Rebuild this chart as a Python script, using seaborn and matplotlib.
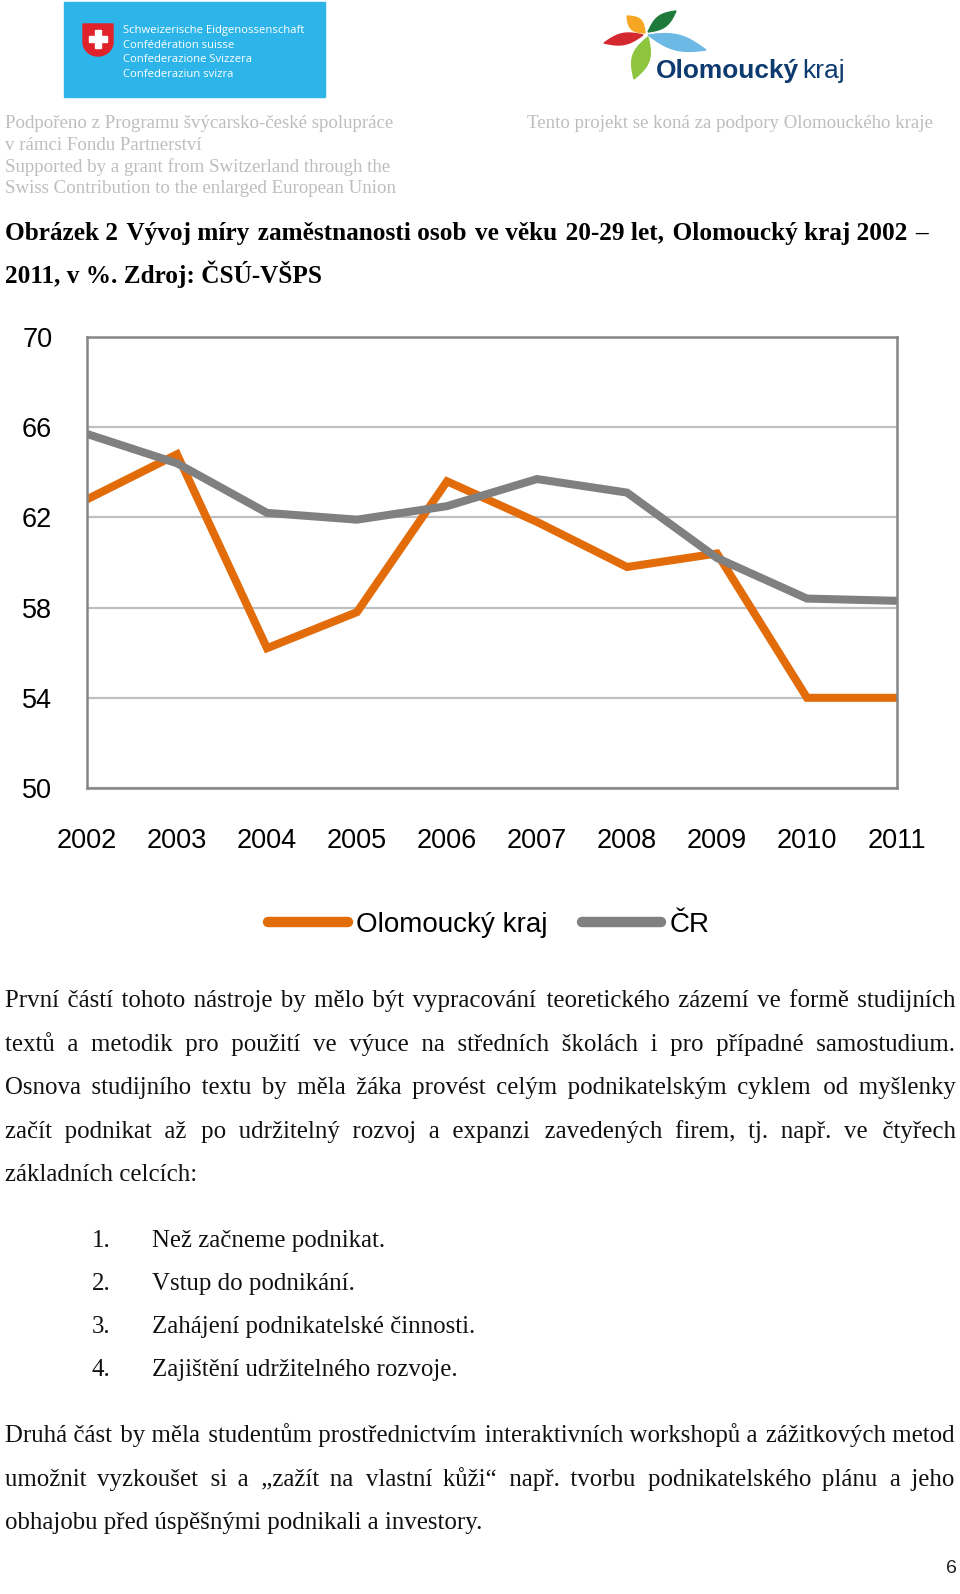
import numpy as np
import pandas as pd
import matplotlib.pyplot as plt
import seaborn as sns
from matplotlib.patches import Rectangle, Polygon

# Data: míra zaměstnanosti 20-29 let (%)
years = [2002, 2003, 2004, 2005, 2006, 2007, 2008, 2009, 2010, 2011]
olomoucky = [62.8, 64.8, 56.2, 57.8, 63.6, 61.8, 59.8, 60.4, 54.0, 54.0]
cr = [65.7, 64.4, 62.2, 61.9, 62.5, 63.7, 63.1, 60.2, 58.4, 58.3]
series_names = ['Olomoucký kraj', 'ČR']
y_ticks = [50, 54, 58, 62, 66, 70]
colors = ['#E36C0A', '#808080']

df = pd.DataFrame({
    'rok': years * 2,
    'hodnota': olomoucky + cr,
    'serie': [series_names[0]] * len(years) + [series_names[1]] * len(years),
})

fig = plt.figure(figsize=(9.6, 15.94), dpi=100)
fig.patch.set_facecolor('white')
R = fig.canvas.get_renderer()

# page layer in pixel coordinates (y down)
page = fig.add_axes([0, 0, 1, 1], zorder=0)
page.set_xlim(0, 960)
page.set_ylim(1594, 0)
page.axis('off')

serif = ['Liberation Serif', 'DejaVu Serif']
sans = 'Liberation Sans'
HAIR = '\u200a'


def width_of(t):
    return t.get_window_extent(renderer=R).width


def str_w(s, size, **kw):
    t = page.text(0, 0, s, fontsize=size, **kw)
    w = width_of(t)
    t.remove()
    return w


def fit(x, y, s, w, size=12, **kw):
    t = page.text(x, y, s, fontsize=size, va='baseline', **kw)
    t.set_fontsize(size * w / width_of(t))
    return t


def size_for(s, w, **kw):
    return 12 * w / str_w(s, 12, **kw)


def justify(line, y, x0, x1, size, **kw):
    # one text per line; gaps widened with hair spaces
    words = line.split(' ')
    hair = str_w('x' + HAIR + 'x', size, **kw) - str_w('xx', size, **kw)
    extra = (x1 - x0) - str_w(line, size, **kw)
    n_gaps = len(words) - 1
    out, done = words[0], 0
    for i, w in enumerate(words[1:], 1):
        want = int(round(extra * i / n_gaps / hair)) if hair > 0 else 0
        out += ' ' + HAIR * max(want - done, 0) + w
        done = max(want, done)
    page.text(x0, y, out, fontsize=size, va='baseline', **kw)


# ---- header: swiss logo
page.add_patch(Rectangle((64, 2), 261, 95, color='#2DB5EA', zorder=1))
th = np.linspace(0, np.pi, 30)
shield = [(83, 24), (113, 24)] + [(98 + 15 * np.cos(a), 42 + 14 * np.sin(a)) for a in th]
page.add_patch(Polygon(shield, closed=True, color='#E2222B', zorder=2))
page.add_patch(Rectangle((89, 35.5), 18, 6, color='white', zorder=3))
page.add_patch(Rectangle((95, 29.5), 6, 18, color='white', zorder=3))
swiss_lines = ['Schweizerische Eidgenossenschaft', 'Confédération suisse',
               'Confederazione Svizzera', 'Confederaziun svizra']
sw = size_for(swiss_lines[0], 179, family='Open Sans')
for i, s in enumerate(swiss_lines):
    page.text(123, 33 + 14.5 * i, s, fontsize=sw, family='Open Sans', color='white',
              va='baseline', zorder=4)

gray_lines = ['Podpořeno z Programu švýcarsko-české spolupráce', 'v rámci Fondu Partnerství',
              'Supported by a grant from Switzerland through the',
              'Swiss Contribution to the enlarged European Union']
gs = size_for(gray_lines[3], 390, family=serif)
for i, s in enumerate(gray_lines):
    page.text(5, 128 + 21.8 * i, s, fontsize=gs, family=serif, color='#BDBDBD', va='baseline')
fit(527, 128, 'Tento projekt se koná za podpory Olomouckého kraje', 406,
    family=serif, color='#BDBDBD')

# ---- header: olomoucky kraj logo (petals)
def petal(p0, p1, wd, col):
    p0, p1 = np.array(p0, float), np.array(p1, float)
    d = p1 - p0
    n = np.array([-d[1], d[0]]) / np.hypot(*d)
    t = np.linspace(0, 1, 25)
    up = [p0 + d * a + n * wd / 2 * np.sin(np.pi * a) for a in t]
    dn = [p0 + d * a - n * wd / 2 * np.sin(np.pi * a) for a in t[::-1]]
    page.add_patch(Polygon(up + dn, closed=True, color=col, zorder=2))


petal((627, 16), (645, 33), 13, '#F6A623')
petal((648, 32), (676, 11), 12, '#1D7A3B')
petal((604, 43), (643, 35), 11, '#D3282F')
petal((648, 35), (706, 50), 15, '#6CB9E5')
petal((648, 37), (634, 79), 17, '#8DC53F')
fit(656, 78, 'Olomoucký', 142, family=sans, weight='bold', color='#0D3B6F')
fit(802, 78, 'kraj', 43, family=sans, color='#0D3B6F')

# ---- caption
cap1 = 'Obrázek 2 Vývoj míry zaměstnanosti osob ve věku 20-29 let, Olomoucký kraj 2002 –'
cap2 = '2011, v %. Zdroj: ČSÚ-VŠPS'
cs = size_for(cap2, 316, family=serif, weight='bold')
justify(cap1, 240, 5, 928, cs, family=serif, weight='bold', color='black')
page.text(5, 283, cap2, fontsize=cs, family=serif, weight='bold', color='black', va='baseline')

# ---- chart
ax = fig.add_axes([87 / 960, (1594 - 788) / 1594, 810 / 960, 451 / 1594], zorder=1)
sns.lineplot(data=df, x='rok', y='hodnota', hue='serie', palette=colors,
             linewidth=5.8, ax=ax, legend=True)
for ln in ax.get_lines():
    ln.set_solid_joinstyle('miter')
ax.set_xlim(years[0], years[-1])
ax.set_ylim(y_ticks[0], y_ticks[-1])
ax.set_yticks(y_ticks)
ax.set_xticks(years)
ax.set_xticklabels([str(y) for y in years])
ax.set_xlabel('')
ax.set_ylabel('')
ax.grid(axis='y', color='#BFBFBF', linewidth=1.6)
ax.set_axisbelow(True)
for sp in ax.spines.values():
    sp.set_color('#868686')
    sp.set_linewidth(1.8)
ax.tick_params(axis='both', length=0, labelsize=19.5, labelcolor='black')
ax.tick_params(axis='y', pad=25)
ax.tick_params(axis='x', pad=29)
for lab in ax.get_xticklabels() + ax.get_yticklabels():
    lab.set_family(sans)

handles, labels = ax.get_legend_handles_labels()
ax.get_legend().remove()
leg = fig.legend(handles, labels, loc='center', bbox_to_anchor=(489 / 960, 1 - 925 / 1594),
                 ncol=2, frameon=False, handlelength=2.85, handletextpad=0.3,
                 columnspacing=1.25, prop={'family': sans, 'size': 20})
for ln in leg.get_lines():
    ln.set_linewidth(7.5)
    ln.set_solid_capstyle('round')

# ---- body text
bs = size_for('obhajobu před úspěšnými podnikali a investory.', 478, family=serif)
body = dict(family=serif, color='#111111')
para1 = ['První částí tohoto nástroje by mělo být vypracování teoretického zázemí ve formě studijních',
         'textů a metodik pro použití ve výuce na středních školách i pro případné samostudium.',
         'Osnova studijního textu by měla žáka provést celým podnikatelským cyklem od myšlenky',
         'začít podnikat až po udržitelný rozvoj a expanzi zavedených firem, tj. např. ve čtyřech']
for i, line in enumerate(para1):
    justify(line, 1007 + 43.6 * i, 5, 955, bs, **body)
page.text(5, 1181, 'základních celcích:', fontsize=bs, va='baseline', **body)

items = ['Než začneme podnikat.', 'Vstup do podnikání.', 'Zahájení podnikatelské činnosti.',
         'Zajištění udržitelného rozvoje.']
for i, s in enumerate(items):
    yb = 1247 + 43 * i
    page.text(92, yb, f'{i + 1}.', fontsize=bs, va='baseline', **body)
    page.text(152, yb, s, fontsize=bs, va='baseline', **body)

para2 = ['Druhá část by měla studentům prostřednictvím interaktivních workshopů a zážitkových metod',
         'umožnit vyzkoušet si a „zažít na vlastní kůži“ např. tvorbu podnikatelského plánu a jeho']
for i, line in enumerate(para2):
    justify(line, 1442 + 43.6 * i, 5, 955, bs, **body)
page.text(5, 1529, 'obhajobu před úspěšnými podnikali a investory.', fontsize=bs,
          va='baseline', **body)

page.text(957, 1573, '6', fontsize=14, family=sans, ha='right', va='baseline', color='#222222')

fig.savefig('out.png', dpi=100)
